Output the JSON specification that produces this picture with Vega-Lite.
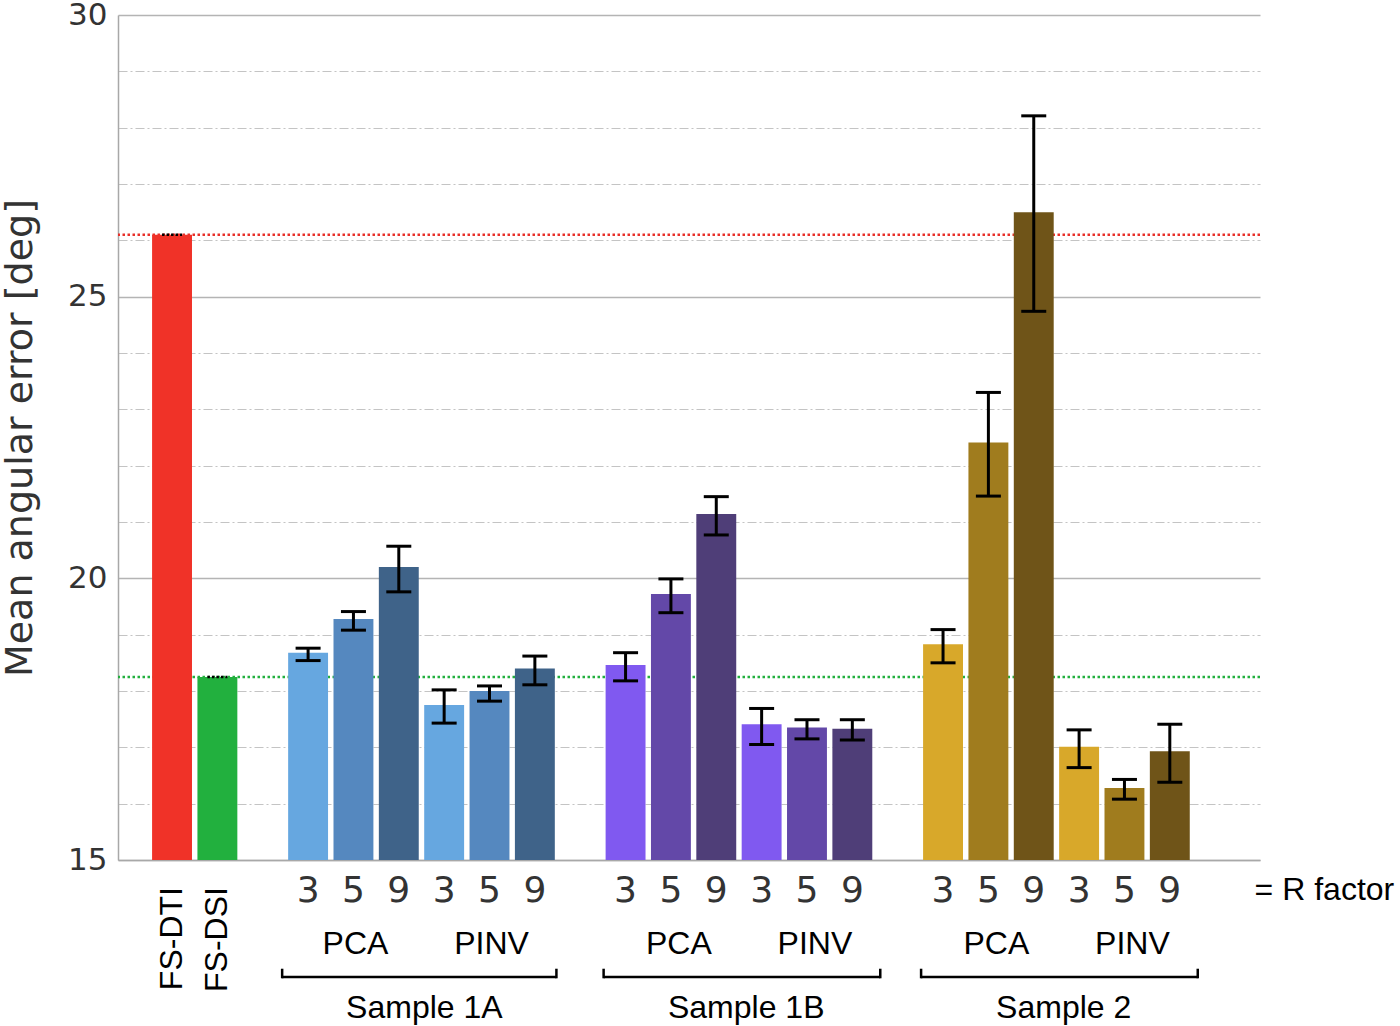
{
  "$schema": "https://vega.github.io/schema/vega-lite/v6.json",
  "autosize": "none",
  "width": 1142,
  "height": 845,
  "padding": {"left": 118, "top": 15, "right": 140, "bottom": 166},
  "background": "white",
  "config": {"view": {"stroke": null}},
  "resolve": {"scale": {"color": "independent"}},
  "datasets": {
    "bars": [
      {"cat": "FS-DTI", "group": "FS", "r": "", "shade": "FS-DTI", "value": 26.1, "lo": 26.1, "hi": 26.1},
      {"cat": "FS-DSI", "group": "FS", "r": "", "shade": "FS-DSI", "value": 18.25, "lo": 18.25, "hi": 18.25},
      {"cat": "1A PCA 3", "group": "1A", "r": "3", "shade": "1A-3", "value": 18.68, "lo": 18.54, "hi": 18.76},
      {"cat": "1A PCA 5", "group": "1A", "r": "5", "shade": "1A-5", "value": 19.28, "lo": 19.08, "hi": 19.41},
      {"cat": "1A PCA 9", "group": "1A", "r": "9", "shade": "1A-9", "value": 20.2, "lo": 19.76, "hi": 20.57},
      {"cat": "1A PINV 3", "group": "1A", "r": "3", "shade": "1A-3", "value": 17.75, "lo": 17.43, "hi": 18.02},
      {"cat": "1A PINV 5", "group": "1A", "r": "5", "shade": "1A-5", "value": 18.0, "lo": 17.82, "hi": 18.09},
      {"cat": "1A PINV 9", "group": "1A", "r": "9", "shade": "1A-9", "value": 18.4, "lo": 18.11, "hi": 18.62},
      {"cat": "1B PCA 3", "group": "1B", "r": "3", "shade": "1B-3", "value": 18.46, "lo": 18.18, "hi": 18.68},
      {"cat": "1B PCA 5", "group": "1B", "r": "5", "shade": "1B-5", "value": 19.72, "lo": 19.39, "hi": 19.99},
      {"cat": "1B PCA 9", "group": "1B", "r": "9", "shade": "1B-9", "value": 21.14, "lo": 20.77, "hi": 21.45},
      {"cat": "1B PINV 3", "group": "1B", "r": "3", "shade": "1B-3", "value": 17.41, "lo": 17.05, "hi": 17.69},
      {"cat": "1B PINV 5", "group": "1B", "r": "5", "shade": "1B-5", "value": 17.35, "lo": 17.15, "hi": 17.49},
      {"cat": "1B PINV 9", "group": "1B", "r": "9", "shade": "1B-9", "value": 17.33, "lo": 17.13, "hi": 17.49},
      {"cat": "2 PCA 3", "group": "2", "r": "3", "shade": "2-3", "value": 18.83, "lo": 18.5, "hi": 19.09},
      {"cat": "2 PCA 5", "group": "2", "r": "5", "shade": "2-5", "value": 22.41, "lo": 21.46, "hi": 23.3},
      {"cat": "2 PCA 9", "group": "2", "r": "9", "shade": "2-9", "value": 26.5, "lo": 24.74, "hi": 28.21},
      {"cat": "2 PINV 3", "group": "2", "r": "3", "shade": "2-3", "value": 17.01, "lo": 16.64, "hi": 17.31},
      {"cat": "2 PINV 5", "group": "2", "r": "5", "shade": "2-5", "value": 16.28, "lo": 16.08, "hi": 16.43},
      {"cat": "2 PINV 9", "group": "2", "r": "9", "shade": "2-9", "value": 16.93, "lo": 16.38, "hi": 17.41}
    ],
    "refs": [
      {"name": "FS-DTI", "value": 26.1},
      {"name": "FS-DSI", "value": 18.25}
    ],
    "methods": [
      {"sample": "1A", "cat": "1A PCA 5", "label": "PCA"},
      {"sample": "1A", "cat": "1A PINV 5", "label": "PINV"},
      {"sample": "1B", "cat": "1B PCA 5", "label": "PCA"},
      {"sample": "1B", "cat": "1B PINV 5", "label": "PINV"},
      {"sample": "2", "cat": "2 PCA 5", "label": "PCA"},
      {"sample": "2", "cat": "2 PINV 5", "label": "PINV"}
    ],
    "samples": [
      {"sample": "1A", "cat": "1A PCA 3", "to": "1A PINV 9", "mid": "1A PCA 9", "label": "Sample 1A"},
      {"sample": "1B", "cat": "1B PCA 3", "to": "1B PINV 9", "mid": "1B PCA 9", "label": "Sample 1B"},
      {"sample": "2", "cat": "2 PCA 3", "to": "2 PINV 9", "mid": "2 PCA 9", "label": "Sample 2"}
    ],
    "note": [
      {"cat": "2 PINV 9", "label": "= R factor"}
    ]
  },
  "layer": [
    {
      "data": {"name": "refs"},
      "mark": {"type": "rule", "strokeWidth": 2.5, "strokeDash": [2.5, 2.5]},
      "encoding": {
        "y": {"field": "value", "type": "quantitative", "scale": {"domain": [15, 30], "nice": false, "zero": false}},
        "color": {"field": "name", "type": "nominal", "scale": {"domain": ["FS-DTI", "FS-DSI"], "range": ["#e8302a", "#22b03e"]}, "legend": null}
      }
    },
    {
      "data": {"name": "bars"},
      "mark": {"type": "bar"},
      "encoding": {
        "x": {
          "field": "cat", "type": "nominal",
          "scale": {
            "domain": ["FS-DTI", "FS-DSI", "gap a", "1A PCA 3", "1A PCA 5", "1A PCA 9", "1A PINV 3", "1A PINV 5", "1A PINV 9", "gap b", "1B PCA 3", "1B PCA 5", "1B PCA 9", "1B PINV 3", "1B PINV 5", "1B PINV 9", "gap c", "2 PCA 3", "2 PCA 5", "2 PCA 9", "2 PINV 3", "2 PINV 5", "2 PINV 9", "gap d"],
            "paddingInner": 0.12, "paddingOuter": 0.65, "align": 0.578
          },
          "axis": {"title": null, "labels": false, "ticks": false, "domain": true, "domainColor": "#a8a8a8", "domainWidth": 1.5, "grid": false}
        },
        "y": {
          "field": "value", "type": "quantitative",
          "scale": {"domain": [15, 30], "nice": false, "zero": false},
          "axis": {
            "title": "Mean angular error [deg]",
            "titleFont": "DejaVu Sans", "titleFontSize": 38, "titleFontWeight": "normal", "titleColor": "#333333", "titlePadding": 28,
            "values": [15, 16, 17, 18, 19, 20, 21, 22, 23, 24, 25, 26, 27, 28, 29, 30],
            "format": "d",
            "labelExpr": "datum.value % 5 === 0 ? datum.label : ''",
            "labelFont": "DejaVu Sans", "labelFontSize": 31, "labelColor": "#333333", "labelPadding": 11,
            "ticks": false, "domain": true, "domainColor": "#a8a8a8", "domainWidth": 1.5,
            "grid": true,
            "gridColor": {"condition": {"test": "datum.value % 5 === 0", "value": "#b4b4b4"}, "value": "#c4c4c4"},
            "gridWidth": {"condition": {"test": "datum.value % 5 === 0", "value": 1.6}, "value": 1.2},
            "gridDash": {"condition": {"test": "datum.value % 5 === 0", "value": []}, "value": [9, 3, 2, 3]}
          }
        },
        "y2": {"datum": 15},
        "color": {
          "field": "shade", "type": "nominal",
          "scale": {
            "domain": ["FS-DTI", "FS-DSI", "1A-3", "1A-5", "1A-9", "1B-3", "1B-5", "1B-9", "2-3", "2-5", "2-9"],
            "range": ["#f03228", "#22b03e", "#66a7e0", "#5588bf", "#3f6389", "#8059f0", "#6348a8", "#4f3e78", "#d8a82a", "#a07c1e", "#6f5418"]
          },
          "legend": null
        }
      }
    },
    {
      "data": {"name": "bars"},
      "transform": [{"filter": "datum.group !== 'FS'"}],
      "mark": {"type": "rule", "color": "black", "strokeWidth": 3},
      "encoding": {
        "x": {"field": "cat", "type": "nominal"},
        "y": {"field": "lo", "type": "quantitative"},
        "y2": {"field": "hi"}
      }
    },
    {
      "data": {"name": "bars"},
      "transform": [{"filter": "datum.group !== 'FS'"}],
      "mark": {"type": "tick", "color": "black", "size": 25, "thickness": 3, "opacity": 1},
      "encoding": {
        "x": {"field": "cat", "type": "nominal"},
        "y": {"field": "lo", "type": "quantitative"}
      }
    },
    {
      "data": {"name": "bars"},
      "transform": [{"filter": "datum.group !== 'FS'"}],
      "mark": {"type": "tick", "color": "black", "size": 25, "thickness": 3, "opacity": 1},
      "encoding": {
        "x": {"field": "cat", "type": "nominal"},
        "y": {"field": "hi", "type": "quantitative"}
      }
    },
    {
      "data": {"name": "bars"},
      "transform": [{"filter": "datum.group === 'FS'"}],
      "mark": {"type": "rule", "color": "black", "strokeWidth": 2.5, "strokeDash": [2.5, 2], "xOffset": -10, "x2Offset": 10},
      "encoding": {
        "x": {"field": "cat", "type": "nominal"},
        "x2": {"field": "cat"},
        "y": {"field": "hi", "type": "quantitative"}
      }
    },
    {
      "data": {"name": "bars"},
      "transform": [{"filter": "datum.group !== 'FS'"}],
      "mark": {"type": "text", "font": "DejaVu Sans", "fontSize": 36, "color": "#333333", "baseline": "alphabetic", "align": "center"},
      "encoding": {
        "x": {"field": "cat", "type": "nominal"},
        "y": {"datum": 14.26},
        "text": {"field": "r"}
      }
    },
    {
      "data": {"name": "bars"},
      "transform": [{"filter": "datum.group === 'FS'"}],
      "mark": {"type": "text", "font": "Liberation Sans", "fontSize": 32, "color": "black", "angle": 270, "align": "right", "baseline": "middle"},
      "encoding": {
        "x": {"field": "cat", "type": "nominal"},
        "y": {"datum": 14.52},
        "text": {"field": "cat"}
      }
    },
    {
      "data": {"name": "methods"},
      "transform": [{"filter": "datum.sample === '1A'"}],
      "mark": {"type": "text", "font": "Liberation Sans", "fontSize": 32, "color": "black", "baseline": "alphabetic", "align": "center"},
      "encoding": {
        "x": {"field": "cat", "type": "nominal", "bandPosition": 0.55},
        "y": {"datum": 13.331},
        "text": {"field": "label"}
      }
    },
    {
      "data": {"name": "methods"},
      "transform": [{"filter": "datum.sample !== '1A'"}],
      "mark": {"type": "text", "font": "Liberation Sans", "fontSize": 32, "color": "black", "baseline": "alphabetic", "align": "center"},
      "encoding": {
        "x": {"field": "cat", "type": "nominal", "bandPosition": 0.7},
        "y": {"datum": 13.331},
        "text": {"field": "label"}
      }
    },
    {
      "data": {"name": "samples"},
      "transform": [{"filter": "datum.sample === '1A'"}],
      "mark": {"type": "rule", "color": "black", "strokeWidth": 2.5},
      "encoding": {
        "x": {"field": "cat", "type": "nominal", "bandPosition": -0.15},
        "x2": {"field": "to", "bandPosition": 1.04},
        "y": {"datum": 12.923}
      }
    },
    {
      "data": {"name": "samples"},
      "transform": [{"filter": "datum.sample !== '1A'"}],
      "mark": {"type": "rule", "color": "black", "strokeWidth": 2.5},
      "encoding": {
        "x": {"field": "cat", "type": "nominal", "bandPosition": -0.05},
        "x2": {"field": "to", "bandPosition": 1.2},
        "y": {"datum": 12.923}
      }
    },
    {
      "data": {"name": "samples"},
      "transform": [{"filter": "datum.sample === '1A'"}],
      "mark": {"type": "rule", "color": "black", "strokeWidth": 2.5},
      "encoding": {
        "x": {"field": "cat", "type": "nominal", "bandPosition": -0.15},
        "y": {"datum": 12.9},
        "y2": {"datum": 13.07}
      }
    },
    {
      "data": {"name": "samples"},
      "transform": [{"filter": "datum.sample === '1A'"}],
      "mark": {"type": "rule", "color": "black", "strokeWidth": 2.5},
      "encoding": {
        "x": {"field": "to", "type": "nominal", "bandPosition": 1.04},
        "y": {"datum": 12.9},
        "y2": {"datum": 13.07}
      }
    },
    {
      "data": {"name": "samples"},
      "transform": [{"filter": "datum.sample !== '1A'"}],
      "mark": {"type": "rule", "color": "black", "strokeWidth": 2.5},
      "encoding": {
        "x": {"field": "cat", "type": "nominal", "bandPosition": -0.05},
        "y": {"datum": 12.9},
        "y2": {"datum": 13.07}
      }
    },
    {
      "data": {"name": "samples"},
      "transform": [{"filter": "datum.sample !== '1A'"}],
      "mark": {"type": "rule", "color": "black", "strokeWidth": 2.5},
      "encoding": {
        "x": {"field": "to", "type": "nominal", "bandPosition": 1.2},
        "y": {"datum": 12.9},
        "y2": {"datum": 13.07}
      }
    },
    {
      "data": {"name": "samples"},
      "transform": [{"filter": "datum.sample === '1A'"}],
      "mark": {"type": "text", "font": "Liberation Sans", "fontSize": 32, "color": "black", "baseline": "alphabetic", "align": "center"},
      "encoding": {
        "x": {"field": "mid", "type": "nominal", "bandPosition": 1.14},
        "y": {"datum": 12.2},
        "text": {"field": "label"}
      }
    },
    {
      "data": {"name": "samples"},
      "transform": [{"filter": "datum.sample !== '1A'"}],
      "mark": {"type": "text", "font": "Liberation Sans", "fontSize": 32, "color": "black", "baseline": "alphabetic", "align": "center"},
      "encoding": {
        "x": {"field": "mid", "type": "nominal", "bandPosition": 1.25},
        "y": {"datum": 12.2},
        "text": {"field": "label"}
      }
    },
    {
      "data": {"name": "note"},
      "mark": {"type": "text", "font": "Liberation Sans", "fontSize": 32, "color": "black", "baseline": "alphabetic", "align": "left"},
      "encoding": {
        "x": {"field": "cat", "type": "nominal", "bandPosition": 2.625},
        "y": {"datum": 14.29},
        "text": {"field": "label"}
      }
    }
  ]
}
